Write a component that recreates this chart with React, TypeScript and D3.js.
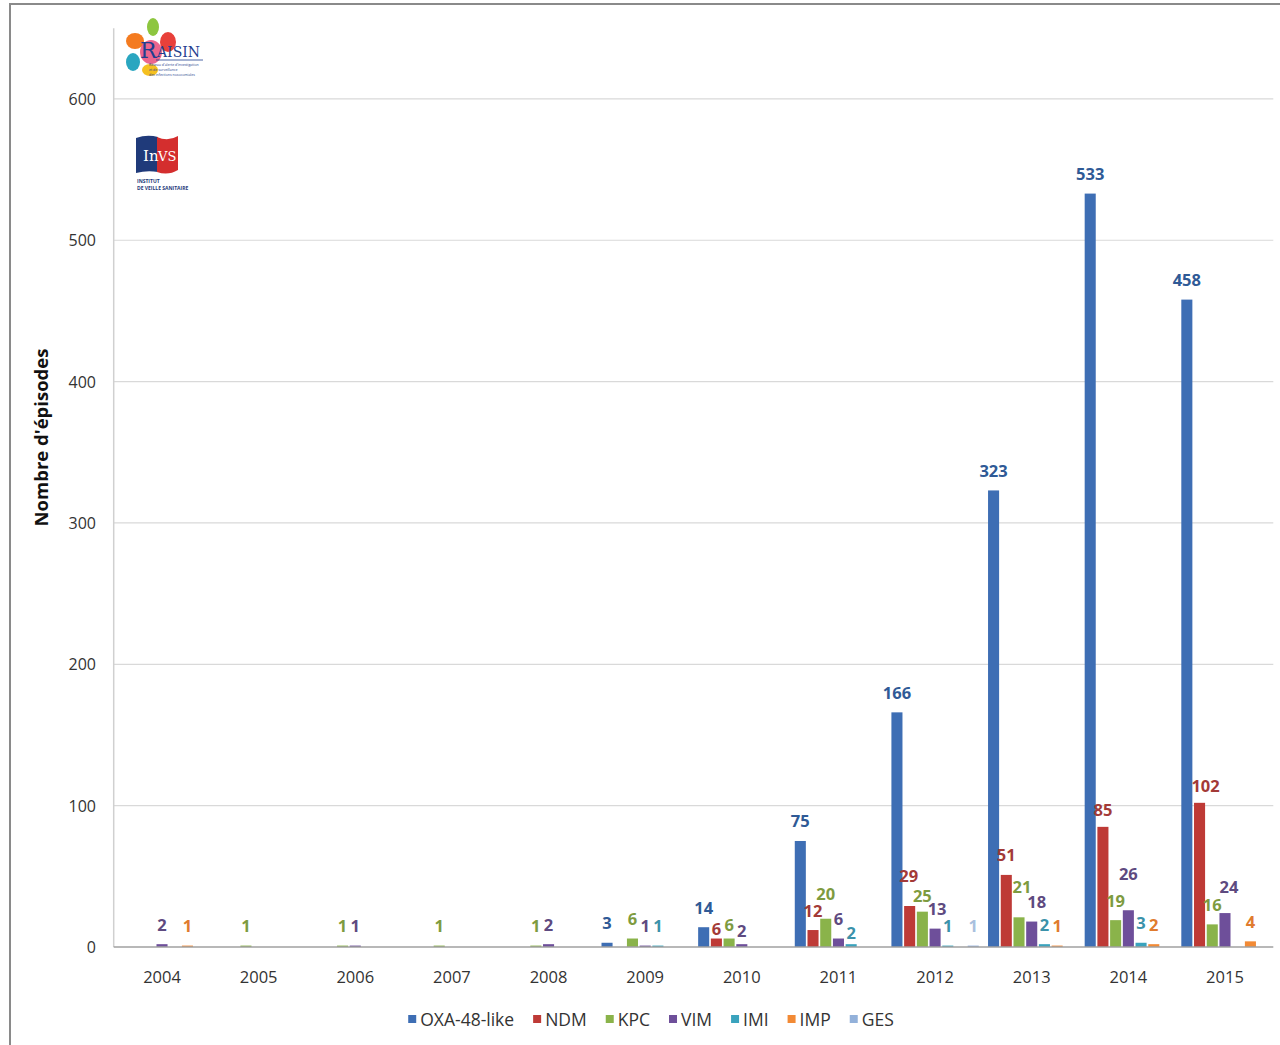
import React from 'react';
import * as d3 from 'd3';

const years = ['2004', '2005', '2006', '2007', '2008', '2009', '2010', '2011', '2012', '2013', '2014', '2015'];
const seriesNames = ['OXA-48-like', 'NDM', 'KPC', 'VIM', 'IMI', 'IMP', 'GES'];
const oxa48 = [null, null, null, null, null, 3, 14, 75, 166, 323, 533, 458];
const ndm = [null, null, null, null, null, null, 6, 12, 29, 51, 85, 102];
const kpc = [null, 1, 1, 1, 1, 6, 6, 20, 25, 21, 19, 16];
const vim = [2, null, 1, null, 2, 1, 2, 6, 13, 18, 26, 24];
const imi = [null, null, null, null, null, 1, null, 2, 1, 2, 3, null];
const imp = [1, null, null, null, null, null, null, null, null, 1, 2, 4];
const ges = [null, null, null, null, null, null, null, null, 1, null, null, null];
const yTicks = [0, 100, 200, 300, 400, 500, 600];

const seriesValues: (number | null)[][] = [oxa48, ndm, kpc, vim, imi, imp, ges];
const barColors = ['#3E6EB4', '#BE3A36', '#8AB34A', '#6E4F9A', '#3AA3BD', '#F28A35', '#93B1DA'];
const labelColors = ['#2F5A96', '#A33A37', '#7E9B3F', '#5E4A80', '#3B92AA', '#E07B2E', '#A9C0DE'];

// manual label nudges (dx, dy) as in the original chart, keyed "year|series"
const labelNudges: Record<string, [number, number]> = {
  '2010|NDM': [0, 10],
  '2010|KPC': [0, 6],
  '2010|VIM': [0, 6],
  '2011|KPC': [0, -5],
  '2011|IMI': [0, 8],
  '2012|NDM': [-1, -11],
  '2012|KPC': [0, 4],
  '2012|VIM': [2, 0],
  '2013|KPC': [3, -11],
  '2013|VIM': [5, 0],
  '2014|NDM': [0, 3],
  '2014|VIM': [0, -17],
  '2015|NDM': [6, 3],
  '2015|VIM': [4, -7],
};

const FONT = '"Open Sans", "Liberation Sans", sans-serif';

const W = 1280;
const H = 1045;
const plotLeft = 113.7;
const plotRight = 1273.3;
const plotBottom = 947;
const plotTop = 28.2;

function RaisinLogo() {
  return (
    <g>
      <ellipse cx={153} cy={27} rx={6} ry={9} fill="#8DC63F" />
      <ellipse cx={168} cy={42} rx={8} ry={10} fill="#E8403A" />
      <ellipse cx={135} cy={41} rx={9} ry={8} fill="#F47B20" />
      <ellipse cx={133} cy={62} rx={7} ry={9} fill="#2AA6C0" />
      <ellipse cx={150} cy={70} rx={8} ry={6} fill="#F5C020" />
      <ellipse cx={151} cy={52} rx={11} ry={12} fill="#E94B7A" opacity={0.85} />
      <text x={140} y={58} fontFamily="'DejaVu Serif', serif" fontSize={22} fill="#1F3F8F">R</text>
      <text x={157} y={57} fontFamily="'DejaVu Serif', serif" fontSize={14} fill="#1F3F8F">AISIN</text>
      <line x1={156} y1={60} x2={203} y2={60} stroke="#1F3F8F" strokeWidth={0.8} />
      <text x={149} y={66} fontFamily={FONT} fontSize={3.5} fill="#1F3F8F">Réseau d'alerte d'investigation</text>
      <text x={149} y={71} fontFamily={FONT} fontSize={3.5} fill="#1F3F8F">et de surveillance</text>
      <text x={149} y={76} fontFamily={FONT} fontSize={3.5} fill="#1F3F8F">des infections nosocomiales</text>
    </g>
  );
}

function InvsLogo() {
  return (
    <g>
      <path d="M136,138 Q147,134 158,137 L158,172 Q147,170 136,173 Z" fill="#1F3A7A" />
      <path d="M157,137 Q168,142 178,136 L178,170 Q168,176 157,172 Z" fill="#D42E2E" />
      <text x={143} y={161} fontFamily="'DejaVu Serif', serif" fontSize={15} fill="#fff">In</text>
      <text x={158} y={161} fontFamily="'DejaVu Serif', serif" fontSize={13} fill="#fff">VS</text>
      <text x={137} y={183} fontFamily={FONT} fontSize={5} fill="#1F3A7A" fontWeight="bold">INSTITUT</text>
      <text x={137} y={190} fontFamily={FONT} fontSize={5} fill="#1F3A7A" fontWeight="bold">DE VEILLE SANITAIRE</text>
    </g>
  );
}

export default function App() {
  const x = d3.scaleBand<string>().domain(years).range([plotLeft, plotRight]).paddingInner(0.079).paddingOuter(0.0395);
  const xs = d3.scaleBand<string>().domain(seriesNames).range([0, x.bandwidth()]).paddingInner(0.13).paddingOuter(0.065);
  const y = d3.scaleLinear().domain([0, 650]).range([plotBottom, plotTop]);

  const bars: React.ReactNode[] = [];
  const labels: React.ReactNode[] = [];
  years.forEach((yr, i) => {
    seriesNames.forEach((s, k) => {
      const v = seriesValues[k][i];
      if (v == null) return;
      const bx = (x(yr) as number) + (xs(s) as number);
      const top = y(v);
      bars.push(
        <rect key={`b-${yr}-${s}`} x={bx} y={top} width={xs.bandwidth()} height={plotBottom - top} fill={barColors[k]} />
      );
      const nudge = labelNudges[`${yr}|${s}`] || [0, 0];
      labels.push(
        <text
          key={`l-${yr}-${s}`}
          x={bx + xs.bandwidth() / 2 + nudge[0]}
          y={top - 20 + nudge[1]}
          textAnchor="middle"
          dominantBaseline="central"
          fontFamily={FONT}
          fontWeight="bold"
          fontSize={16.5}
          fill={labelColors[k]}
        >
          {v}
        </text>
      );
    });
  });

  // legend layout: square 8px, gap, text, gap
  const legendFont = 17.5;
  const textW = (t: string) => {
    if (typeof document !== 'undefined') {
      const c = document.createElement('canvas').getContext('2d');
      if (c) {
        c.font = `${legendFont}px ${FONT}`;
        return c.measureText(t).width;
      }
    }
    return t.length * legendFont * 0.55;
  };
  const itemWidths = seriesNames.map((s) => 8 + 4 + textW(s));
  const gap = 19;
  const totalW = itemWidths.reduce((a, b) => a + b, 0) + gap * (seriesNames.length - 1);
  let lx = 651 - totalW / 2;
  const legendItems = seriesNames.map((s, k) => {
    const x0 = lx;
    lx += itemWidths[k] + gap;
    return (
      <g key={`lg-${s}`} transform={`translate(${x0},1019)`}>
        <rect x={0} y={-4} width={8} height={8} fill={barColors[k]} />
        <text x={12} y={0} dominantBaseline="central" fontFamily={FONT} fontSize={legendFont} fill="#333">
          {s}
        </text>
      </g>
    );
  });

  return (
    <svg width={W} height={H} style={{ position: 'absolute', left: 0, top: 0, background: '#fff' }}>
      <rect x={0} y={0} width={W} height={H} fill="#fff" />
      <rect x={10} y={4} width={W + 20} height={H + 20} fill="none" stroke="#8a8a8a" strokeWidth={2} />

      {yTicks.filter((t) => t > 0).map((t) => (
        <line key={`g-${t}`} x1={plotLeft} x2={plotRight} y1={y(t)} y2={y(t)} stroke="#d9d9d9" strokeWidth={1.2} />
      ))}
      <line x1={plotLeft} x2={plotLeft} y1={plotTop} y2={plotBottom} stroke="#d0d0d0" strokeWidth={1.5} />
      {yTicks.map((t) => (
        <text key={`yt-${t}`} x={96} y={y(t)} textAnchor="end" dominantBaseline="central" fontFamily={FONT} fontSize={16} fill="#333">
          {t}
        </text>
      ))}
      <text
        transform={`translate(40,${(345 + 530) / 2}) rotate(-90)`}
        textAnchor="middle"
        dominantBaseline="central"
        fontFamily={FONT}
        fontWeight="bold"
        fontSize={18.5}
        fill="#111"
      >
        Nombre d'épisodes
      </text>

      {bars}
      <line x1={plotLeft} x2={plotRight} y1={plotBottom} y2={plotBottom} stroke="#a0a0a0" strokeWidth={1.5} />
      {years.map((yr) => (
        <text key={`xt-${yr}`} x={(x(yr) as number) + x.bandwidth() / 2} y={976} textAnchor="middle" dominantBaseline="central" fontFamily={FONT} fontSize={16.5} fill="#333">
          {yr}
        </text>
      ))}
      {labels}
      {legendItems}

      <RaisinLogo />
      <InvsLogo />
    </svg>
  );
}
